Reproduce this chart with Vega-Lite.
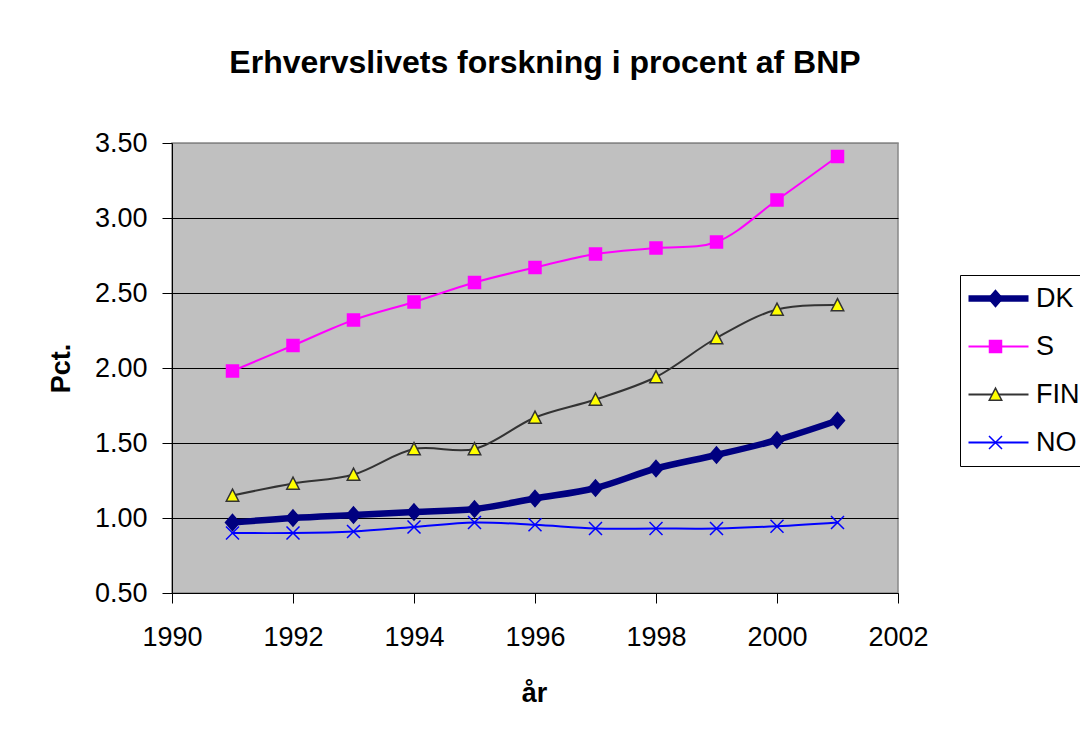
{
  "$schema": "https://vega.github.io/schema/vega-lite/v6.json",
  "width": 726,
  "height": 450,
  "autosize": {"type": "none"},
  "padding": {"left": 172, "top": 143, "right": 182, "bottom": 142},
  "background": "white",
  "title": {
    "text": "Erhvervslivets forskning i procent af BNP",
    "font": "Liberation Sans",
    "fontSize": 32,
    "fontWeight": "bold",
    "color": "black",
    "anchor": "middle",
    "frame": "group",
    "baseline": "alphabetic",
    "offset": 24,
    "dx": 10
  },
  "config": {
    "font": "Liberation Sans",
    "view": {"fill": "#C0C0C0", "stroke": "#888888", "strokeWidth": 1.5},
    "axis": {
      "labelFont": "Liberation Sans",
      "labelFontSize": 27,
      "labelColor": "black",
      "titleFont": "Liberation Sans",
      "titleFontSize": 27,
      "titleFontWeight": "bold",
      "titleColor": "black",
      "domainColor": "black",
      "domainWidth": 1,
      "tickColor": "black",
      "tickWidth": 1,
      "tickSize": 10
    },
    "legend": {
      "labelFont": "Liberation Sans",
      "labelFontSize": 27,
      "labelColor": "black"
    }
  },
  "data": {
    "values": [
      {"year": 1991, "country": "DK", "value": 0.97},
      {"year": 1992, "country": "DK", "value": 1.0},
      {"year": 1993, "country": "DK", "value": 1.02},
      {"year": 1994, "country": "DK", "value": 1.04},
      {"year": 1995, "country": "DK", "value": 1.06},
      {"year": 1996, "country": "DK", "value": 1.13},
      {"year": 1997, "country": "DK", "value": 1.2},
      {"year": 1998, "country": "DK", "value": 1.33},
      {"year": 1999, "country": "DK", "value": 1.42},
      {"year": 2000, "country": "DK", "value": 1.52},
      {"year": 2001, "country": "DK", "value": 1.65},
      {"year": 1991, "country": "S", "value": 1.98},
      {"year": 1992, "country": "S", "value": 2.15},
      {"year": 1993, "country": "S", "value": 2.32},
      {"year": 1994, "country": "S", "value": 2.44},
      {"year": 1995, "country": "S", "value": 2.57},
      {"year": 1996, "country": "S", "value": 2.67},
      {"year": 1997, "country": "S", "value": 2.76},
      {"year": 1998, "country": "S", "value": 2.8},
      {"year": 1999, "country": "S", "value": 2.84},
      {"year": 2000, "country": "S", "value": 3.12},
      {"year": 2001, "country": "S", "value": 3.41},
      {"year": 1991, "country": "FIN", "value": 1.15},
      {"year": 1992, "country": "FIN", "value": 1.23},
      {"year": 1993, "country": "FIN", "value": 1.29},
      {"year": 1994, "country": "FIN", "value": 1.46},
      {"year": 1995, "country": "FIN", "value": 1.46},
      {"year": 1996, "country": "FIN", "value": 1.67},
      {"year": 1997, "country": "FIN", "value": 1.79},
      {"year": 1998, "country": "FIN", "value": 1.94},
      {"year": 1999, "country": "FIN", "value": 2.2},
      {"year": 2000, "country": "FIN", "value": 2.39},
      {"year": 2001, "country": "FIN", "value": 2.42},
      {"year": 1991, "country": "NO", "value": 0.9},
      {"year": 1992, "country": "NO", "value": 0.9},
      {"year": 1993, "country": "NO", "value": 0.91},
      {"year": 1994, "country": "NO", "value": 0.94},
      {"year": 1995, "country": "NO", "value": 0.97},
      {"year": 1996, "country": "NO", "value": 0.955},
      {"year": 1997, "country": "NO", "value": 0.93},
      {"year": 1998, "country": "NO", "value": 0.93},
      {"year": 1999, "country": "NO", "value": 0.93},
      {"year": 2000, "country": "NO", "value": 0.945},
      {"year": 2001, "country": "NO", "value": 0.97}
    ]
  },
  "encoding": {
    "x": {
      "field": "year",
      "type": "quantitative",
      "scale": {"domain": [1990, 2002], "nice": false, "zero": false},
      "axis": {
        "title": "år",
        "values": [1990, 1992, 1994, 1996, 1998, 2000, 2002],
        "format": "d",
        "grid": false,
        "labelPadding": 21,
        "labelFlush": false,
        "labelOverlap": false,
        "titleX": 362,
        "titleY": 108,
        "titleBaseline": "alphabetic",
        "titleAlign": "center"
      }
    },
    "y": {
      "field": "value",
      "type": "quantitative",
      "scale": {"domain": [0.5, 3.5], "nice": false, "zero": false},
      "axis": {
        "title": "Pct.",
        "values": [0.5, 1, 1.5, 2, 2.5, 3, 3.5],
        "format": ".2f",
        "grid": true,
        "gridColor": {"condition": {"test": "datum.value === 3.5", "value": "#888888"}, "value": "black"},
        "gridWidth": 1,
        "labelPadding": 15,
        "labelFlush": false,
        "labelOverlap": false,
        "titleAngle": -90,
        "titleX": -103,
        "titleY": 225,
        "titleBaseline": "alphabetic",
        "titleAlign": "center"
      }
    }
  },
  "layer": [
    {
      "mark": {"type": "line", "interpolate": "catmull-rom", "strokeJoin": "round", "strokeCap": "round"},
      "encoding": {
        "color": {
          "field": "country",
          "type": "nominal",
          "scale": {"domain": ["DK", "S", "FIN", "NO", "_"], "range": ["#000080", "#FF00FF", "#333333", "#0000FF", "#000000"]},
          "legend": {
            "title": null, "orient": "none", "legendX": 788, "legendY": 132, "direction": "vertical",
            "values": ["DK", "S", "FIN", "NO"],
            "padding": 10, "rowPadding": 20, "strokeColor": "black",
            "symbolType": "M-3,0H3", "symbolSize": 400, "symbolOffset": 15, "labelOffset": 24
          }
        },
        "strokeWidth": {
          "field": "country",
          "type": "nominal",
          "scale": {"type": "ordinal", "domain": ["DK", "S", "FIN", "NO", "_"], "range": [6.5, 2, 2, 2, 2]},
          "legend": {
            "title": null, "orient": "none", "legendX": 788, "legendY": 132, "direction": "vertical",
            "values": ["DK", "S", "FIN", "NO"],
            "padding": 10, "rowPadding": 20, "strokeColor": "black",
            "symbolType": "M-3,0H3", "symbolSize": 400, "symbolOffset": 15, "labelOffset": 24
          }
        }
      }
    },
    {
      "mark": {"type": "point", "filled": true, "opacity": 1, "strokeWidth": 1.5},
      "encoding": {
        "shape": {
          "field": "country",
          "type": "nominal",
          "scale": {
            "domain": ["DK", "S", "FIN", "NO"],
            "range": ["M0,-1.15L1,0L0,1.15L-1,0Z", "square", "M0,-1.05L1.04,0.95L-1.04,0.95Z", "M-1,-1L1,1M-1,1L1,-1"]
          },
          "legend": {
            "title": null, "orient": "none", "legendX": 788, "legendY": 132, "direction": "vertical",
            "padding": 10, "rowPadding": 20, "symbolOffset": 12, "labelOffset": 54, "labelOpacity": 0,
            "labelExpr": "' '", "symbolOpacity": 1, "symbolStrokeWidth": 1.5
          }
        },
        "size": {
          "field": "country",
          "type": "nominal",
          "scale": {"type": "ordinal", "domain": ["DK", "S", "FIN", "NO"], "range": [196, 144, 144, 169]},
          "legend": {
            "title": null, "orient": "none", "legendX": 788, "legendY": 132, "direction": "vertical",
            "padding": 10, "rowPadding": 20, "symbolOffset": 12, "labelOffset": 54, "labelOpacity": 0,
            "labelExpr": "' '", "symbolOpacity": 1, "symbolStrokeWidth": 1.5
          }
        },
        "fill": {
          "field": "country",
          "type": "nominal",
          "scale": {"domain": ["DK", "S", "FIN", "NO"], "range": ["#000080", "#FF00FF", "#FFFF00", "transparent"]},
          "legend": {
            "title": null, "orient": "none", "legendX": 788, "legendY": 132, "direction": "vertical",
            "padding": 10, "rowPadding": 20, "symbolOffset": 12, "labelOffset": 54, "labelOpacity": 0,
            "labelExpr": "' '", "symbolOpacity": 1, "symbolStrokeWidth": 1.5
          }
        },
        "stroke": {
          "field": "country",
          "type": "nominal",
          "scale": {"domain": ["DK", "S", "FIN", "NO"], "range": ["#000080", "#FF00FF", "#333333", "#0000FF"]},
          "legend": {
            "title": null, "orient": "none", "legendX": 788, "legendY": 132, "direction": "vertical",
            "padding": 10, "rowPadding": 20, "symbolOffset": 12, "labelOffset": 54, "labelOpacity": 0,
            "labelExpr": "' '", "symbolOpacity": 1, "symbolStrokeWidth": 1.5
          }
        }
      }
    }
  ]
}
